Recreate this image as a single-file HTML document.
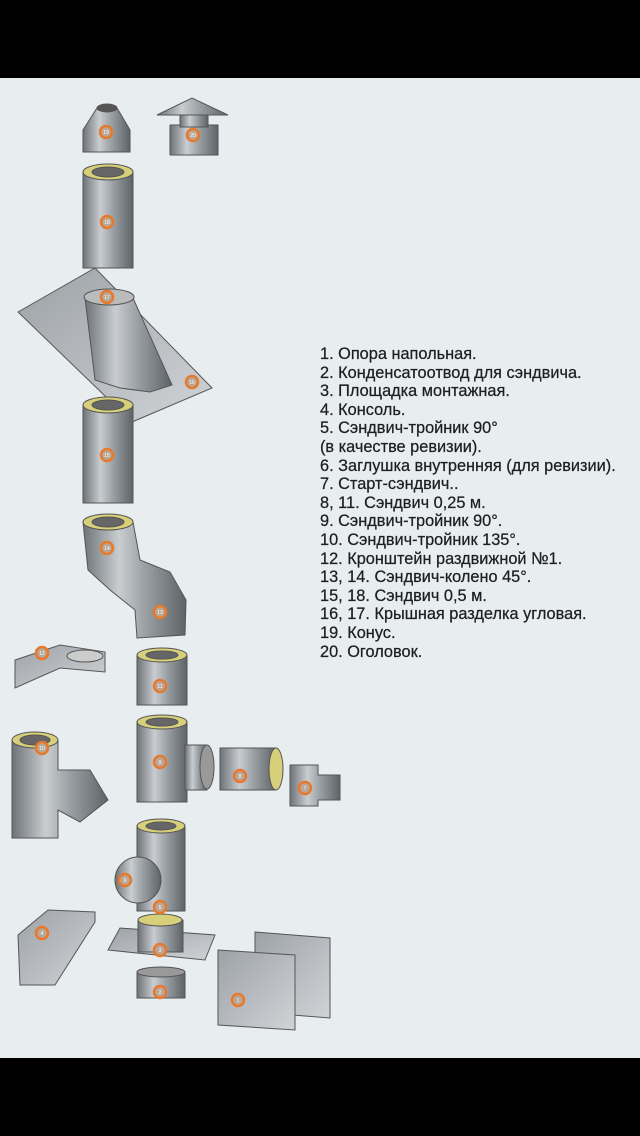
<!DOCTYPE html>
<html><head><meta charset="utf-8"><style>
body{margin:0;width:640px;height:1136px;background:#000;overflow:hidden}
#bg{position:absolute;left:0;top:78px;width:640px;height:980px;background:#e8edf0}
svg{position:absolute;left:0;top:0}
.t{position:absolute;left:320px;top:345px;font-family:"Liberation Sans",sans-serif;font-size:17px;line-height:18.6px;color:#1e1e1e;transform:scaleX(0.96);transform-origin:0 0;white-space:nowrap;-webkit-text-stroke:0.25px #1e1e1e}
</style></head><body>
<div id="bg"></div>
<svg width="640" height="1136" viewBox="0 0 640 1136">
<defs>
<linearGradient id="m" x1="0" x2="1"><stop offset="0" stop-color="#6e7378"/><stop offset=".35" stop-color="#c9cdd0"/><stop offset=".6" stop-color="#9aa0a4"/><stop offset="1" stop-color="#5e6367"/></linearGradient>
<linearGradient id="p" x1="0" x2="1" y1="0" y2="1"><stop offset="0" stop-color="#9da2a7"/><stop offset="1" stop-color="#d0d3d6"/></linearGradient>
</defs>
<g stroke="#555" stroke-width="1">
<path d="M97 108 L117 108 L130 130 L130 152 L83 152 L83 130 Z" fill="url(#m)"/>
<ellipse cx="107" cy="108" rx="10" ry="4" fill="#555"/>
<path d="M157 115 L192 98 L228 115 Z" fill="url(#m)"/>
<rect x="170" y="125" width="48" height="30" fill="url(#m)"/>
<rect x="180" y="115" width="28" height="12" fill="url(#m)"/>
<rect x="83" y="172" width="50" height="96" fill="url(#m)"/>
<ellipse cx="108" cy="172" rx="25" ry="8" fill="#d8cf7a"/><ellipse cx="108" cy="172" rx="16" ry="5" fill="#666"/>
<path d="M18 312 L95 268 L212 388 L132 422 Z" fill="url(#p)"/>
<path d="M85 298 L133 298 L172 385 L150 392 L120 388 L95 380 Z" fill="url(#m)"/>
<ellipse cx="109" cy="297" rx="25" ry="8" fill="#bbb"/>
<rect x="83" y="405" width="50" height="98" fill="url(#m)"/>
<ellipse cx="108" cy="405" rx="25" ry="8" fill="#d8cf7a"/><ellipse cx="108" cy="405" rx="16" ry="5" fill="#666"/>
<path d="M83 522 L133 522 L140 560 L170 572 L186 600 L185 635 L137 638 L135 610 L110 590 L88 570 Z" fill="url(#m)"/>
<ellipse cx="108" cy="522" rx="25" ry="8" fill="#d8cf7a"/><ellipse cx="108" cy="522" rx="16" ry="5" fill="#666"/>
<rect x="137" y="655" width="50" height="50" fill="url(#m)"/>
<ellipse cx="162" cy="655" rx="25" ry="7" fill="#d8cf7a"/><ellipse cx="162" cy="655" rx="16" ry="4" fill="#666"/>
<path d="M15 660 L60 645 L105 652 L105 672 L60 668 L15 688 Z" fill="url(#p)"/>
<ellipse cx="85" cy="656" rx="18" ry="6" fill="#ccc"/>
<path d="M12 740 L58 740 L58 770 L90 770 L108 800 L80 822 L58 810 L58 838 L12 838 Z" fill="url(#m)"/>
<ellipse cx="35" cy="740" rx="23" ry="8" fill="#d8cf7a"/><ellipse cx="35" cy="740" rx="15" ry="5" fill="#666"/>
<rect x="137" y="722" width="50" height="80" fill="url(#m)"/>
<ellipse cx="162" cy="722" rx="25" ry="7" fill="#d8cf7a"/><ellipse cx="162" cy="722" rx="16" ry="4" fill="#666"/>
<rect x="185" y="745" width="22" height="45" fill="url(#m)"/><ellipse cx="207" cy="767" rx="7" ry="22" fill="#999"/>
<rect x="220" y="748" width="56" height="42" fill="url(#m)"/><ellipse cx="276" cy="769" rx="7" ry="21" fill="#d8cf7a"/>
<path d="M290 765 L318 765 L318 775 L340 775 L340 800 L318 800 L318 806 L290 806 Z" fill="url(#m)"/>
<rect x="137" y="826" width="48" height="85" fill="url(#m)"/>
<ellipse cx="161" cy="826" rx="24" ry="7" fill="#d8cf7a"/><ellipse cx="161" cy="826" rx="15" ry="4" fill="#666"/>
<circle cx="138" cy="880" r="23" fill="url(#m)"/>
<path d="M18 935 L48 910 L95 912 L95 922 L55 985 L20 985 Z" fill="url(#p)"/>
<path d="M108 950 L120 928 L215 935 L205 960 Z" fill="url(#p)"/>
<rect x="138" y="920" width="45" height="32" fill="url(#m)"/>
<ellipse cx="160" cy="920" rx="22" ry="6" fill="#d8cf7a"/>
<rect x="137" y="972" width="48" height="26" fill="url(#m)"/><ellipse cx="161" cy="972" rx="24" ry="5" fill="#999"/>
<path d="M255 932 L330 938 L330 1018 L255 1012 Z" fill="url(#p)"/>
<path d="M218 950 L295 955 L295 1030 L218 1025 Z" fill="url(#p)"/>
</g>
<g stroke="#e8792a" stroke-width="2.5" fill="#b8a89a">
<circle cx="106" cy="132" r="6"/><circle cx="193" cy="135" r="6"/><circle cx="107" cy="222" r="6"/><circle cx="107" cy="297" r="6"/><circle cx="192" cy="382" r="6"/><circle cx="107" cy="455" r="6"/><circle cx="107" cy="548" r="6"/><circle cx="160" cy="612" r="6"/><circle cx="42" cy="653" r="6"/><circle cx="160" cy="686" r="6"/><circle cx="42" cy="748" r="6"/><circle cx="160" cy="762" r="6"/><circle cx="240" cy="776" r="6"/><circle cx="305" cy="788" r="6"/><circle cx="125" cy="880" r="6"/><circle cx="160" cy="907" r="6"/><circle cx="42" cy="933" r="6"/><circle cx="160" cy="950" r="6"/><circle cx="160" cy="992" r="6"/><circle cx="238" cy="1000" r="6"/>
</g>
<g font-family="Liberation Sans,sans-serif" font-size="5" fill="#fff" text-anchor="middle">
<text x="106" y="134">19</text><text x="193" y="137">20</text><text x="107" y="224">18</text><text x="107" y="299">17</text><text x="192" y="384">16</text><text x="107" y="457">15</text><text x="107" y="550">14</text><text x="160" y="614">13</text><text x="42" y="655">12</text><text x="160" y="688">11</text><text x="42" y="750">10</text><text x="160" y="764">9</text><text x="240" y="778">8</text><text x="305" y="790">7</text><text x="125" y="882">6</text><text x="160" y="909">5</text><text x="42" y="935">4</text><text x="160" y="952">3</text><text x="160" y="994">2</text><text x="238" y="1002">1</text>
</g>
</svg>
<div class="t">1. Опора напольная.<br>2. Конденсатоотвод для сэндвича.<br>3. Площадка монтажная.<br>4. Консоль.<br>5. Сэндвич-тройник 90°<br>(в качестве ревизии).<br>6. Заглушка внутренняя (для ревизии).<br>7. Старт-сэндвич..<br>8, 11. Сэндвич 0,25 м.<br>9. Сэндвич-тройник 90°.<br>10. Сэндвич-тройник 135°.<br>12. Кронштейн раздвижной №1.<br>13, 14. Сэндвич-колено 45°.<br>15, 18. Сэндвич 0,5 м.<br>16, 17. Крышная разделка угловая.<br>19. Конус.<br>20. Оголовок.</div>
</body></html>
